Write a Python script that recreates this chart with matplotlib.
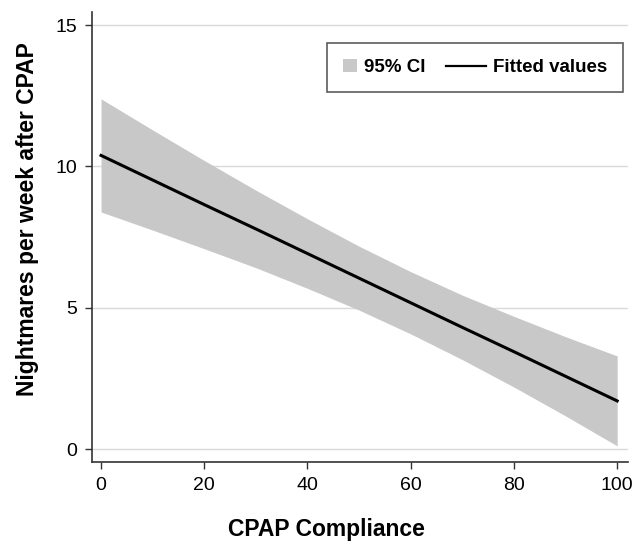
import numpy as np
import matplotlib
matplotlib.use("Agg")
import matplotlib.pyplot as plt
from matplotlib.patches import Rectangle
from matplotlib.lines import Line2D
from matplotlib.legend_handler import HandlerPatch

plt.rcParams['font.family'] = ['Liberation Sans Narrow', 'Liberation Sans', 'DejaVu Sans']

# valores
compliance = [0, 10, 20, 30, 40, 50, 60, 70, 80, 90, 100]
fitted = [10.39, 9.52, 8.65, 7.79, 6.92, 6.05, 5.18, 4.31, 3.45, 2.58, 1.71]
ci_upper = [12.39, 11.29, 10.21, 9.16, 8.15, 7.18, 6.28, 5.45, 4.70, 3.98, 3.30]
ci_lower = [8.39, 7.75, 7.09, 6.42, 5.69, 4.92, 4.08, 3.17, 2.20, 1.18, 0.12]

xticks = [0, 20, 40, 60, 80, 100]
yticks = [0, 5, 10, 15]

fig = plt.figure(figsize=(6.35, 5.44), dpi=100)
ax = fig.add_axes([0.1449, 0.1507, 0.8441, 0.8272])

ax.fill_between(compliance, ci_lower, ci_upper, color='#c8c8c8', linewidth=0, zorder=2)
ax.plot(compliance, fitted, color='black', linewidth=2.2, zorder=3)

ax.set_xlim(-1.75, 102.1)
ax.set_ylim(-0.45, 15.46)
ax.set_xticks(xticks)
ax.set_yticks(yticks)
ax.tick_params(axis='both', direction='out', length=5, width=1, color='#333333',
               labelsize=14)
ax.tick_params(axis='x', pad=6)
ax.tick_params(axis='y', pad=5.5)
ax.grid(axis='y', color='#d9d9d9', linewidth=1, zorder=0)
ax.set_axisbelow(True)

for s in ['top', 'right']:
    ax.spines[s].set_visible(False)
for s in ['left', 'bottom']:
    ax.spines[s].set_color('#333333')
    ax.spines[s].set_linewidth(1.2)

ax.set_xlabel('CPAP Compliance', fontsize=16.5, fontweight='bold')
ax.set_ylabel('Nightmares per week after CPAP', fontsize=16.5, fontweight='bold')
ax.xaxis.set_label_coords(0.438, -0.124)
ax.yaxis.set_label_coords(-0.099, 0.54)

'''leyenda: cuadrado para el IC y linea mas larga'''
def cuadrado(legend, orig_handle, xdescent, ydescent, width, height, fontsize):
    s = 10
    return Rectangle((-xdescent + width - s, -ydescent + (height - s) / 2), s, s)

def linea(legend, orig_handle, xdescent, ydescent, width, height, fontsize):
    y = -ydescent + height / 2
    return Line2D([-xdescent + width - 29, -xdescent + width], [y, y])

ci_handle = Rectangle((0, 0), 1, 1, facecolor='#c8c8c8', edgecolor='none')
fit_handle = Line2D([], [], color='black', linewidth=1.6)
leg = ax.legend([ci_handle, fit_handle], ['95% CI', 'Fitted values'],
                loc='upper right', bbox_to_anchor=(623 / 635, 1 - 43 / 544),
                bbox_transform=fig.transFigure, borderaxespad=0, ncol=2,
                prop={'weight': 'bold', 'size': 13.5}, frameon=True, fancybox=False,
                edgecolor='#333333', handlelength=0.75, handletextpad=0.35,
                columnspacing=2.5, borderpad=0.85,
                handler_map={Rectangle: HandlerPatch(patch_func=cuadrado),
                             Line2D: HandlerPatch(patch_func=linea)})
leg.get_frame().set_linewidth(1.2)

fig.savefig('out.png', dpi=100)
